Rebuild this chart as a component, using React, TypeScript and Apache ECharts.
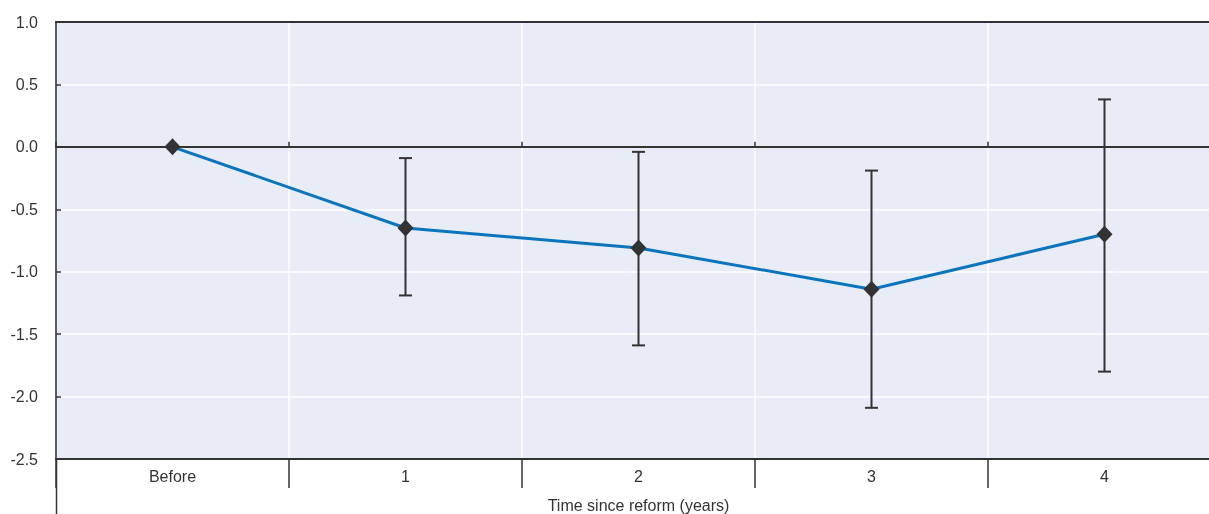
import React, { useEffect, useRef } from "react";
import * as echarts from "echarts";

const categories = ["Before", "1", "2", "3", "4"];
const estimates = [0, -0.65, -0.81, -1.14, -0.7];
const lowerBounds = [null, -1.19, -1.59, -2.09, -1.8];
const upperBounds = [null, -0.09, -0.04, -0.19, 0.38];
const xAxisTitle = "Time since reform (years)";

const DARK = "#333333";
const FONT = "'Liberation Sans', Arial, sans-serif";
const FS = 16;

export default function App() {
  const ref = useRef<HTMLDivElement>(null);
  useEffect(() => {
    if (!ref.current) return;
    const chart = echarts.init(ref.current, undefined, { renderer: "svg" });
    const errData = categories
      .map((c, i) => [i, lowerBounds[i], upperBounds[i]])
      .filter((d) => d[1] !== null);
    chart.setOption({
      animation: false,
      grid: {
        left: 56,
        top: 22,
        right: 0,
        bottom: 55,
        outerBoundsMode: "none",
        containLabel: false,
        show: true,
        backgroundColor: "#e8ecf6",
        borderColor: DARK,
        borderWidth: 1.5,
      },
      xAxis: [
        {
          type: "category",
          data: categories,
          position: "bottom",
          name: xAxisTitle,
          nameLocation: "middle",
          nameGap: 38,
          nameTextStyle: { fontFamily: FONT, fontSize: FS, color: DARK },
          axisLine: { show: true, onZero: false, lineStyle: { color: DARK, width: 2 } },
          axisTick: { show: true, length: 29, lineStyle: { color: DARK, width: 1.5 } },
          axisLabel: { fontFamily: FONT, fontSize: FS, color: DARK, margin: 9 },
          splitLine: { show: true, lineStyle: { color: "#ffffff", width: 1.5 } },
        },
        {
          type: "category",
          data: categories,
          position: "top",
          offset: -124.86,
          axisLine: { show: true, onZero: false, lineStyle: { color: DARK, width: 2 } },
          axisTick: { show: true, length: 5, lineStyle: { color: DARK, width: 1.5 } },
          axisLabel: { show: false },
          splitLine: { show: false },
        },
        {
          type: "category",
          data: categories,
          position: "top",
          offset: 0,
          axisLine: { show: true, onZero: false, lineStyle: { color: DARK, width: 2 } },
          axisTick: { show: false },
          axisLabel: { show: false },
          splitLine: { show: false },
        },
      ],
      yAxis: {
        type: "value",
        min: -2.5,
        max: 1,
        interval: 0.5,
        axisLine: { show: true, lineStyle: { color: DARK, width: 1.5 } },
        axisTick: { show: true, inside: true, length: 5, lineStyle: { color: DARK, width: 1.5 } },
        axisLabel: {
          fontFamily: FONT,
          fontSize: FS,
          color: DARK,
          margin: 18,
          formatter: (v: number) => v.toFixed(1),
        },
        splitLine: { show: true, lineStyle: { color: "#ffffff", width: 1.5 } },
      },
      graphic: [
        {
          type: "line",
          shape: { x1: 56.5, y1: 459, x2: 56.5, y2: 514 },
          style: { stroke: DARK, lineWidth: 1.5 },
        },
      ],
      series: [
        {
          type: "custom",
          xAxisIndex: 0,
          renderItem: (params: any, api: any) => {
            const x = api.value(0);
            const lo = api.coord([x, api.value(1)]);
            const hi = api.coord([x, api.value(2)]);
            const cap = 6.5;
            const style = { stroke: DARK, lineWidth: 2 };
            return {
              type: "group",
              children: [
                { type: "line", shape: { x1: lo[0], y1: lo[1], x2: hi[0], y2: hi[1] }, style },
                { type: "line", shape: { x1: lo[0] - cap, y1: lo[1], x2: lo[0] + cap, y2: lo[1] }, style },
                { type: "line", shape: { x1: hi[0] - cap, y1: hi[1], x2: hi[0] + cap, y2: hi[1] }, style },
              ],
            };
          },
          data: errData,
          z: 3,
        },
        {
          type: "line",
          xAxisIndex: 0,
          data: estimates,
          lineStyle: { color: "#0a75bc", width: 3 },
          symbol: "diamond",
          symbolSize: [16, 17],
          itemStyle: { color: DARK },
          z: 4,
        },
      ],
    });
    return () => chart.dispose();
  }, []);
  return (
    <div
      ref={ref}
      style={{ position: "fixed", left: 0, top: 0, width: 1221, height: 514 }}
    />
  );
}
